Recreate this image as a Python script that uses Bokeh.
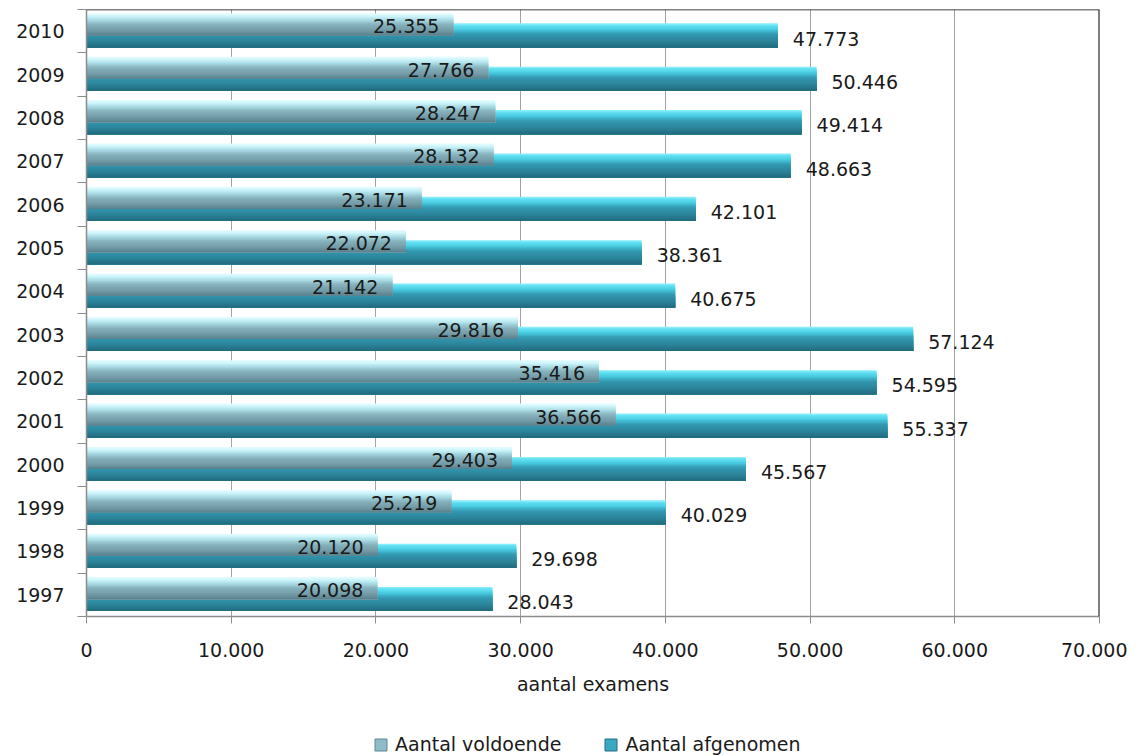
from bokeh.plotting import figure
from bokeh.models import (ColumnDataSource, FixedTicker, Span, Legend, LegendItem)
from bokeh.layouts import column
from bokeh.embed import file_html
from bokeh.resources import INLINE
from bokeh.core.properties import value

years = [1997, 1998, 1999, 2000, 2001, 2002, 2003, 2004, 2005, 2006, 2007, 2008, 2009, 2010]
voldoende = [20098, 20120, 25219, 29403, 36566, 35416, 29816, 21142, 22072, 23171, 28132, 28247, 27766, 25355]
afgenomen = [28043, 29698, 40029, 45567, 55337, 54595, 57124, 40675, 38361, 42101, 48663, 49414, 50446, 47773]
x_ticks = [0, 10000, 20000, 30000, 40000, 50000, 60000, 70000]
x_tick_labels = ["0", "10.000", "20.000", "30.000", "40.000", "50.000", "60.000", "70.000"]
series_names = ["Aantal voldoende", "Aantal afgenomen"]

FONT = "DejaVu Sans"
TXT = "#1a1a1a"
W = 1127


def fmt(v):
    return f"{v:,}".replace(",", ".")


def hex2rgb(h):
    h = h.lstrip("#")
    return tuple(int(h[i:i + 2], 16) for i in (0, 2, 4))


def grad(stops, t):
    for i in range(len(stops) - 1):
        t0, c0 = stops[i]
        t1, c1 = stops[i + 1]
        if t0 <= t <= t1:
            f = (t - t0) / (t1 - t0) if t1 > t0 else 0
            a, b = hex2rgb(c0), hex2rgb(c1)
            return "#%02x%02x%02x" % tuple(int(round(a[j] + (b[j] - a[j]) * f)) for j in range(3))
    return stops[-1][1]


light_stops = [(0.0, "#e6fdff"), (0.12, "#cff6fb"), (0.3, "#a9dbe4"), (0.5, "#87b2bd"),
               (0.8, "#7099a5"), (1.0, "#58808c")]
dark_stops = [(0.0, "#9af2fc"), (0.08, "#66e2f3"), (0.25, "#48cbe1"), (0.45, "#3399b1"),
              (0.75, "#2b8399"), (1.0, "#216a7c")]

p = figure(width=W, height=706, output_backend="svg", toolbar_location=None,
           x_range=(0, 70000), y_range=(1996.5, 2010.5),
           min_border_left=86, min_border_top=9, min_border_right=W - 1099, min_border_bottom=90)
p.background_fill_color = "white"
p.border_fill_color = "white"
p.outline_line_color = None


def gradient_bars(values, top, bottom, stops, n=18):
    ys, hs, rights, cols = [], [], [], []
    step = (top - bottom) / n
    for k in range(n):
        t = (k + 0.5) / n
        c = grad(stops, t)
        strip_top = top - k * step
        for yr, v in zip(years, values):
            # each strip runs from its own top down to the bar bottom; later strips overdraw
            ys.append(yr + (strip_top + bottom) / 2)
            hs.append(strip_top - bottom)
            rights.append(v)
            cols.append(c)
    src = ColumnDataSource(dict(y=ys, h=hs, right=rights, color=cols))
    p.hbar(y="y", left=0, right="right", height="h", fill_color="color",
           line_color=None, source=src)


# back series (afgenomen) then front series (voldoende)
gradient_bars(afgenomen, 0.18, -0.375, dark_stops)
gradient_bars(voldoende, 0.41, -0.10, light_stops)

# value labels
src_v = ColumnDataSource(dict(x=voldoende, y=[y + 0.11 for y in years], t=[fmt(v) for v in voldoende]))
p.text(x="x", y="y", text="t", source=src_v, x_offset=-14, text_align="right",
       text_baseline="middle", text_font=value(FONT), text_font_size="19px", text_color=TXT)
src_a = ColumnDataSource(dict(x=afgenomen, y=[y - 0.17 for y in years], t=[fmt(v) for v in afgenomen]))
p.text(x="x", y="y", text="t", source=src_a, x_offset=15, text_align="left",
       text_baseline="middle", text_font=value(FONT), text_font_size="19px", text_color=TXT)

# frame borders top/right
p.add_layout(Span(location=70000, dimension="height", line_color="black", line_width=2))
p.add_layout(Span(location=2010.5, dimension="width", line_color="black", line_width=1.5))

# grid
p.xgrid.ticker = FixedTicker(ticks=x_ticks)
p.xgrid.grid_line_color = "#a3a3a3"
p.xgrid.grid_line_width = 1
p.ygrid.grid_line_color = None

# x axis
p.xaxis.ticker = FixedTicker(ticks=x_ticks)
p.xaxis.major_label_overrides = {t: l for t, l in zip(x_ticks, x_tick_labels)}
p.xaxis.axis_line_color = "#8c8c8c"
p.xaxis.axis_line_width = 1.5
p.xaxis.major_tick_line_color = "#8c8c8c"
p.xaxis.major_tick_out = 7
p.xaxis.major_tick_in = 0
p.xaxis.minor_tick_line_color = None
p.xaxis.major_label_standoff = 19
p.xaxis.major_label_text_font = FONT
p.xaxis.major_label_text_font_size = "19px"
p.xaxis.major_label_text_color = TXT
p.xaxis.axis_label = "aantal examens"
p.xaxis.axis_label_text_font = FONT
p.xaxis.axis_label_text_font_size = "19px"
p.xaxis.axis_label_text_font_style = "normal"
p.xaxis.axis_label_text_color = TXT
p.xaxis.axis_label_standoff = 13

# y axis
boundaries = [y - 0.5 for y in years] + [years[-1] + 0.5]
p.yaxis.ticker = FixedTicker(ticks=years, minor_ticks=boundaries)
p.yaxis.axis_line_color = "#8c8c8c"
p.yaxis.axis_line_width = 1.5
p.yaxis.major_tick_line_color = None
p.yaxis.major_tick_out = 0
p.yaxis.major_tick_in = 0
p.yaxis.minor_tick_line_color = "#8c8c8c"
p.yaxis.minor_tick_out = 9
p.yaxis.minor_tick_in = 0
p.yaxis.major_label_standoff = 13
p.yaxis.major_label_text_font = FONT
p.yaxis.major_label_text_font_size = "19px"
p.yaxis.major_label_text_color = TXT

# legend strip below the chart (its frame is aligned with the chart's frame)
leg = figure(width=W, height=50, output_backend="svg", toolbar_location=None,
             x_range=(0, 1), y_range=(0, 1), min_border=0)
leg.axis.visible = False
leg.grid.visible = False
leg.outline_line_color = None
leg.background_fill_color = "white"
leg.border_fill_color = "white"
r1 = leg.quad(left=[-5], right=[-4], bottom=[-5], top=[-4],
              fill_color="#8fbcc7", line_color="#5c8894")
r2 = leg.quad(left=[-5], right=[-4], bottom=[-5], top=[-4],
              fill_color="#3aa8c0", line_color="#236f82")
legend = Legend(items=[LegendItem(label=series_names[0], renderers=[r1]),
                       LegendItem(label=series_names[1], renderers=[r2])],
                orientation="horizontal", location=(287, 1),
                label_text_font=FONT, label_text_font_size="19px", label_text_color=TXT,
                glyph_width=15, glyph_height=15, label_standoff=7, spacing=42,
                border_line_color=None, background_fill_alpha=0, margin=0, padding=0)
leg.add_layout(legend, "center")

layout = column(p, leg, spacing=0)
open("out.html", "w").write(file_html(layout, INLINE))
